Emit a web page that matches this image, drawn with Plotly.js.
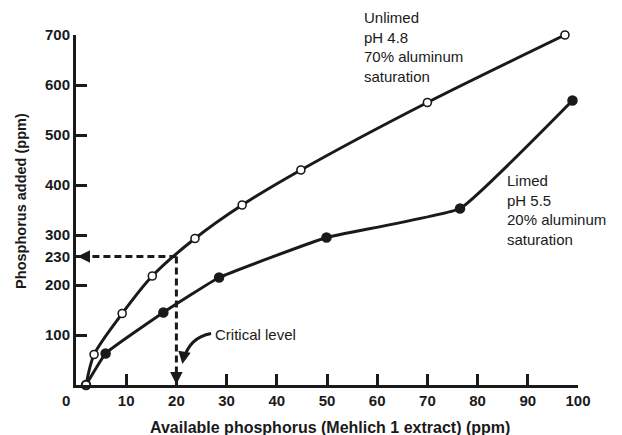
<!DOCTYPE html>
<html><head><meta charset="utf-8">
<script src="https://cdn.plot.ly/plotly-3.0.1.min.js"></script>
<style>html,body{margin:0;padding:0;background:#fff}</style>
</head><body><div id="chart" style="width:622px;height:435px"></div>
<script>
// Data
const unlimedX = [2, 3.6, 9.2, 15.2, 23.7, 33.1, 44.8, 70.0, 97.4];
const unlimedY = [0, 61, 143, 218, 293, 360, 430, 565, 700];
const limedX = [2, 5.9, 17.4, 28.5, 49.9, 76.5, 98.9];
const limedY = [0, 63, 145, 215, 295, 353, 569];
const xTickVals = [10, 20, 30, 40, 50, 60, 70, 80, 90, 100];
const xTickText = ['10', '20', '30', '40', '50', '60', '70', '80', '90', '100'];
const yTickVals = [100, 200, 257, 300, 400, 500, 600, 700];
const yTickText = ['100', '200', '230', '300', '400', '500', '600', '700'];
const criticalX = 20;
const criticalY = 257;
const unlimedLabel = 'Unlimed<br>pH 4.8<br>70% aluminum<br>saturation';
const limedLabel = 'Limed<br>pH 5.5<br>20% aluminum<br>saturation';
const criticalLabel = 'Critical level';
const xTitle = 'Available phosphorus (Mehlich 1 extract) (ppm)';
const yTitle = 'Phosphorus added (ppm)';

const INK = '#1a1a1a';
const FONT = 'Liberation Sans, Arial, Helvetica, sans-serif';

const limedColors = limedX.map((_, i) => i === 0 ? 'white' : INK);

const traces = [
  {
    x: limedX, y: limedY, type: 'scatter', mode: 'lines+markers',
    line: {color: INK, width: 3, shape: 'spline', smoothing: 0.3},
    marker: {symbol: 'circle', size: 9, color: limedColors, line: {color: INK, width: 1.5}},
    cliponaxis: false, hoverinfo: 'x+y'
  },
  {
    x: unlimedX, y: unlimedY, type: 'scatter', mode: 'lines+markers',
    line: {color: INK, width: 3, shape: 'spline', smoothing: 0.8},
    marker: {symbol: 'circle', size: 8, color: 'white', line: {color: INK, width: 1.6}},
    cliponaxis: false, hoverinfo: 'x+y'
  }
];

const axisCommon = {
  showgrid: false, zeroline: false, showline: true, linecolor: INK, linewidth: 3,
  ticks: 'inside', ticklen: 11, tickwidth: 3, tickcolor: INK,
  tickfont: {family: FONT, size: 15, color: INK, weight: 'bold'},
  tickmode: 'array', fixedrange: true
};

const layout = {
  width: 622, height: 435,
  margin: {l: 76, r: 44, t: 35, b: 50},
  paper_bgcolor: 'white', plot_bgcolor: 'white',
  showlegend: false,
  xaxis: Object.assign({}, axisCommon, {range: [0, 100], tickvals: xTickVals, ticktext: xTickText, ticklabelstandoff: 0}),
  yaxis: Object.assign({}, axisCommon, {range: [0, 700], tickvals: yTickVals, ticktext: yTickText, ticklabelstandoff: 0}),
  shapes: [
    {type: 'line', xref: 'x', yref: 'y', x0: criticalX, y0: criticalY, x1: 2.4, y1: criticalY,
     line: {color: INK, width: 3, dash: '7px,4px'}},
    {type: 'line', xref: 'x', yref: 'y', x0: criticalX, y0: criticalY, x1: criticalX, y1: 24,
     line: {color: INK, width: 3, dash: '7px,4px'}},
    {type: 'path', xref: 'x', yref: 'y', path: 'M 26.9 103 Q 22.6 95 21.5 52',
     line: {color: INK, width: 3}}
  ],
  annotations: [
    {xref: 'x', yref: 'y', x: 0.3, y: criticalY, ax: 14, ay: 0, showarrow: true,
     arrowhead: 2, arrowsize: 1, arrowwidth: 2.5, arrowcolor: INK, text: ''},
    {xref: 'x', yref: 'y', x: criticalX, y: 1, ax: 0, ay: -14, showarrow: true,
     arrowhead: 2, arrowsize: 1, arrowwidth: 2.5, arrowcolor: INK, text: ''},
    {xref: 'x', yref: 'y', x: 21.2, y: 42, ax: 2, ay: -12, showarrow: true,
     arrowhead: 2, arrowsize: 1, arrowwidth: 2.5, arrowcolor: INK, text: ''},
    {xref: 'paper', yref: 'paper', x: -0.0199, y: -0.043, yanchor: 'middle', xanchor: 'center',
     showarrow: false, text: '0', font: {family: FONT, size: 15, color: INK, weight: 'bold'}},
    {xref: 'paper', yref: 'paper', x: 0.569, y: 1.08, xanchor: 'left', yanchor: 'top', align: 'left',
     showarrow: false, text: unlimedLabel, font: {family: FONT, size: 15, color: INK}},
    {xref: 'x', yref: 'y', x: 85.4, y: 430, xanchor: 'left', yanchor: 'top', align: 'left',
     showarrow: false, text: limedLabel, font: {family: FONT, size: 15, color: INK}},
    {xref: 'x', yref: 'y', x: 27.2, y: 122, xanchor: 'left', yanchor: 'top', align: 'left',
     showarrow: false, text: criticalLabel, font: {family: FONT, size: 15, color: INK}},
    {xref: 'paper', yref: 'paper', x: 0.506, y: -0.12, xanchor: 'center', yanchor: 'middle',
     showarrow: false, text: xTitle, font: {family: FONT, size: 16, color: INK, weight: 'bold'}},
    {xref: 'paper', yref: 'paper', x: -0.1096, y: 0.526, xanchor: 'center', yanchor: 'middle', textangle: -90,
     showarrow: false, text: yTitle, font: {family: FONT, size: 14.5, color: INK, weight: 'bold'}}
  ]
};

Plotly.newPlot('chart', traces, layout, {displayModeBar: false, staticPlot: true});
</script>
</body></html>
